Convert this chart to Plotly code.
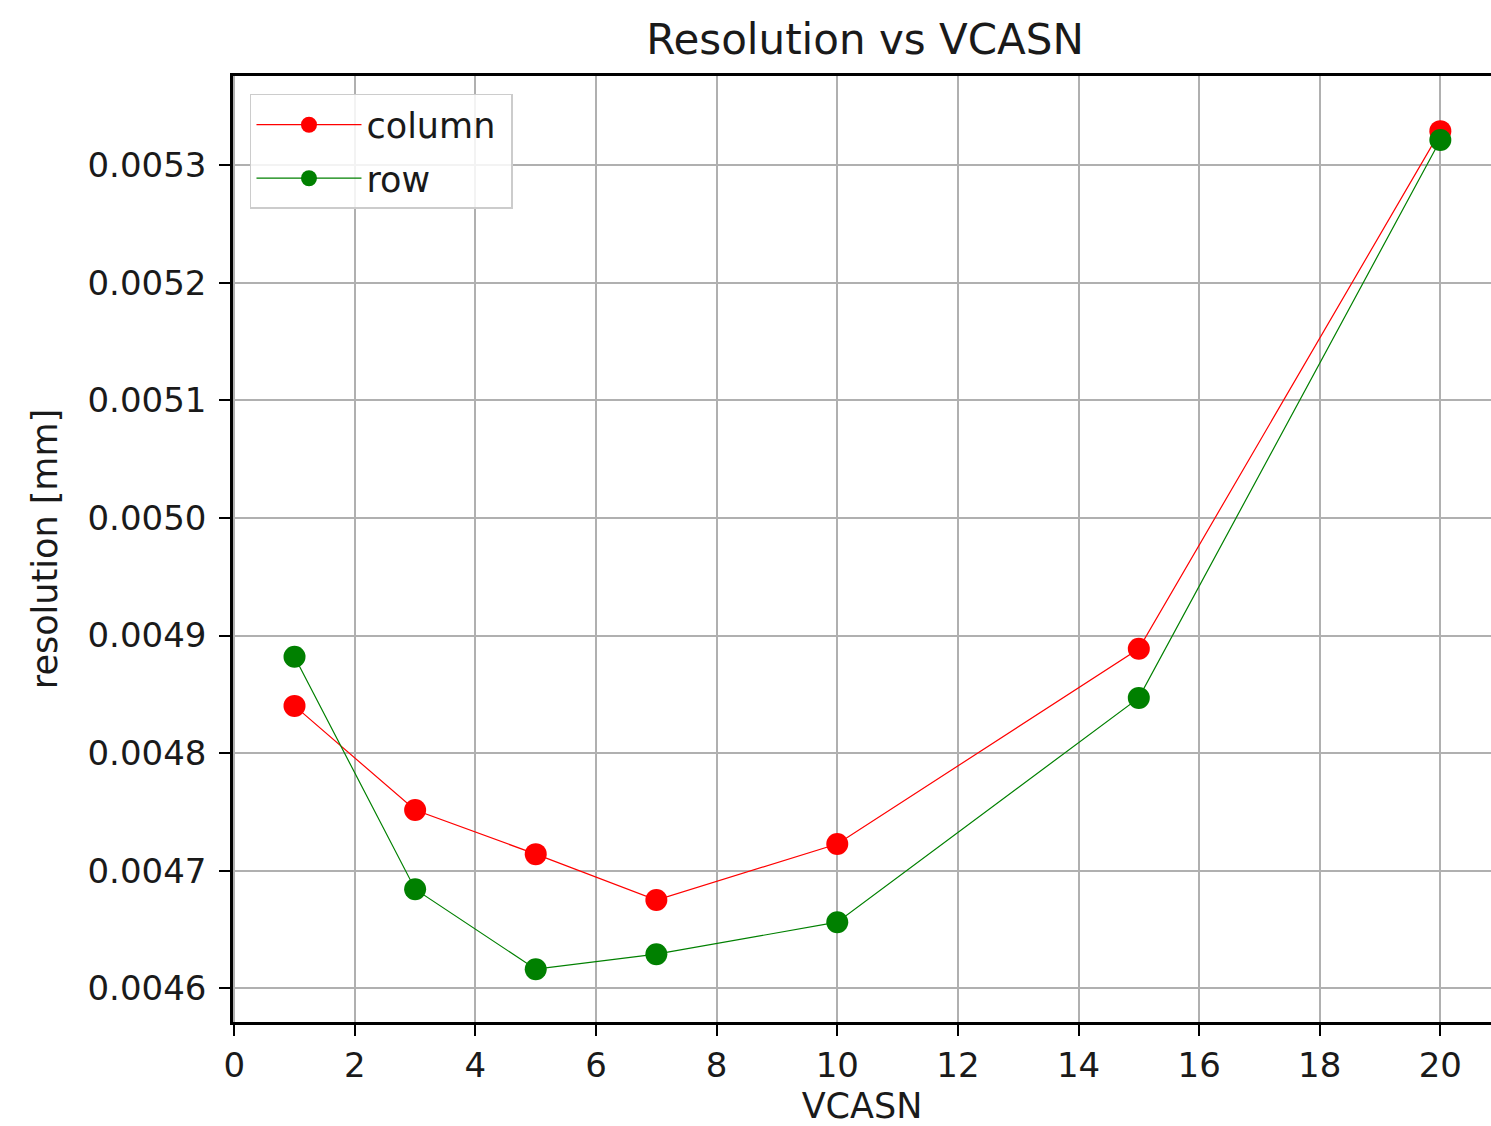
import plotly.graph_objects as go

vcasn = [1, 3, 5, 7, 10, 15, 20]
column_res = [0.0048402, 0.0047516, 0.0047141, 0.0046750, 0.0047227, 0.0048888, 0.0053291]
row_res = [0.0048820, 0.0046843, 0.0046162, 0.0046290, 0.0046562, 0.0048470, 0.0053215]

x_ticks = list(range(0, 21, 2))
y_ticks = [0.0046, 0.0047, 0.0048, 0.0049, 0.0050, 0.0051, 0.0052, 0.0053]

FONT = "DejaVu Sans"
TXT = "#1a1a1a"

fig = go.Figure()
fig.add_trace(go.Scatter(
    x=vcasn, y=column_res, name="column ", mode="lines+markers", legendgroup="c",
    line=dict(color="red", width=1.2),
    marker=dict(color="red", size=22, line=dict(width=0)),
))
fig.add_trace(go.Scatter(
    x=vcasn, y=row_res, name="row", mode="lines+markers", legendgroup="r",
    line=dict(color="green", width=1.2),
    marker=dict(color="green", size=22, line=dict(width=0)),
))

axis_common = dict(
    showline=True, linecolor="black", linewidth=2.5,
    ticks="outside", ticklen=11, tickwidth=2, tickcolor="black",
    showgrid=True, gridcolor="#b0b0b0", gridwidth=1.8,
    zeroline=False,
    tickfont=dict(family=FONT, size=34, color=TXT),
)

fig.update_layout(
    width=1491, height=1126,
    paper_bgcolor="white", plot_bgcolor="white",
    margin=dict(l=233, r=0, t=76, b=104, autoexpand=False),
    font=dict(family=FONT, color=TXT),
    title=dict(text="Resolution vs VCASN", font=dict(family=FONT, size=42, color=TXT),
               x=0.5024, xref="paper", xanchor="center",
               y=1 - 39 / 1126, yref="container", yanchor="middle"),
    xaxis=dict(axis_common, range=[-0.02, 20.84], tickvals=x_ticks,
               ticktext=[str(v) for v in x_ticks], mirror=True, automargin=False,
               title=dict(text="VCASN", font=dict(family=FONT, size=35, color=TXT), standoff=24)),
    yaxis=dict(axis_common, range=[0.0045713, 0.005376], tickvals=y_ticks,
               ticktext=[f"{v:.4f}" for v in y_ticks], ticklabelstandoff=6,
               title=dict(text="resolution [mm]", font=dict(family=FONT, size=35, color=TXT), standoff=20)),
    legend=dict(x=0.0135, y=0.981, xanchor="left", yanchor="top",
                bgcolor="rgba(255,255,255,0.85)", bordercolor="#cccccc", borderwidth=1.5,
                font=dict(family=FONT, size=35, color=TXT), itemwidth=105,
                tracegroupgap=5),
    showlegend=True,
)

fig.write_html("out.html")
